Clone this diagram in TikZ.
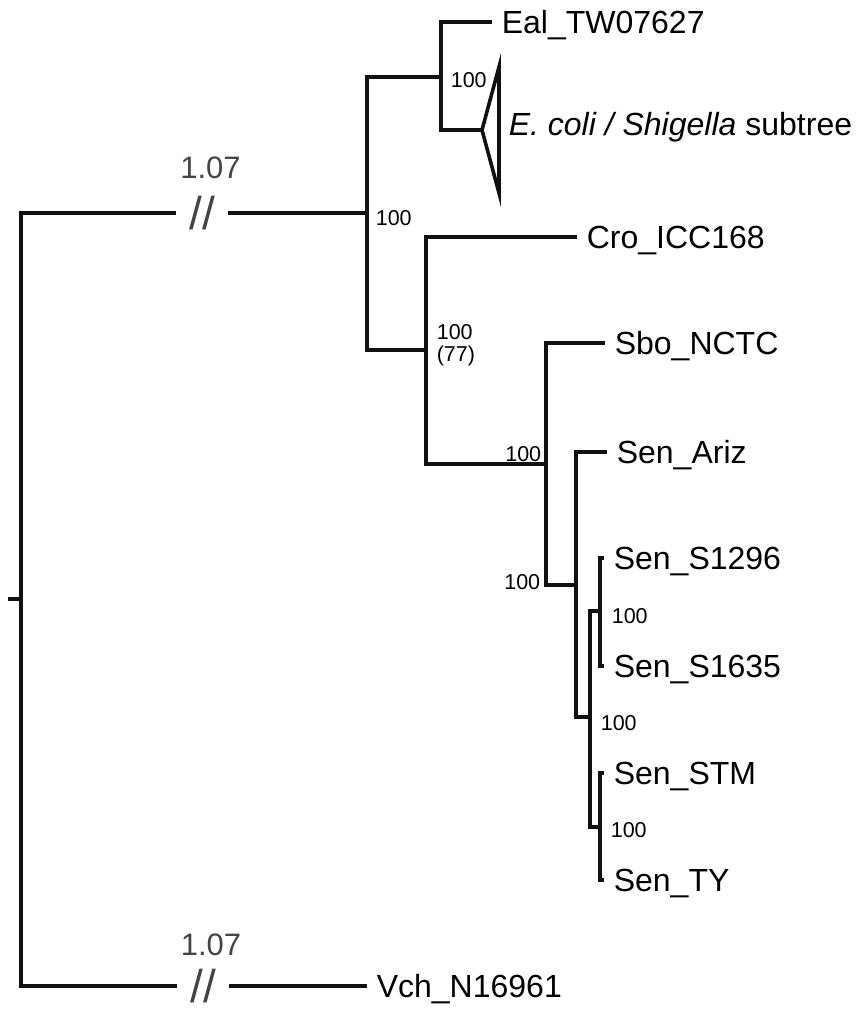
\documentclass[tikz,border=0pt]{standalone}
\usepackage{fontspec}
\setmainfont{Liberation Sans}
\usepackage{xcolor}
\definecolor{branchBlack}{HTML}{111111}
\definecolor{breakGrey}{HTML}{444444}
\usetikzlibrary{positioning}

\begin{document}
\begin{tikzpicture}[
    x=1pt, y=-1pt,
    line width=3.6pt,
    branch/.style={draw=branchBlack, line width=3.6pt},
    taxonNode/.style={anchor=west, inner xsep=8pt, inner ysep=0pt, text height=23pt, text depth=0pt, font=\fontsize{32}{38}\selectfont},
    bootLabel/.style={inner sep=0pt, font=\fontsize{21.5}{22}\selectfont, align=left},
    breakMark/.style={inner xsep=11.5pt, inner ysep=0pt, text height=33pt, text depth=0pt, text=breakGrey, font=\fontsize{46}{50}\selectfont},
    distLabel/.style={inner sep=0pt, text height=22pt, text depth=0pt, text=breakGrey, font=\fontsize{31}{36}\selectfont}
]
\useasboundingbox (0,0) rectangle (858,1009);

% Internal nodes of the tree
\coordinate (rootstub) at (8,599);
\coordinate (root) at (21,599);
\coordinate (nA) at (367,213);
\coordinate (nEC) at (441,77);
\coordinate (nB) at (426,350);
\coordinate (nC) at (546,464);
\coordinate (nD) at (576,585);
\coordinate (nE) at (590,717);
\coordinate (nF) at (600,611);
\coordinate (nG) at (600,827);

% Collapsed E. coli / Shigella clade
\coordinate (apex) at (482,130);
\coordinate (triTop) at (499,67);
\coordinate (triBot) at (499,193);

% Long branches with breaks
\node[breakMark] (brkTop) at (202,213) {//};
\node[breakMark] (brkBot) at (203,986) {//};
\node[distLabel] (distTop) at (210.5,167) {1.07};
\node[distLabel] (distBot) at (211,944) {1.07};

% Taxa
\node[taxonNode] (eal) at (492,22) {Eal\_TW07627};
\node[taxonNode] (ecoli) at (499,124) {\textit{E. coli / Shigella} subtree};
\node[taxonNode] (cro) at (577,237) {Cro\_ICC168};
\node[taxonNode] (sbo) at (605,343) {Sbo\_NCTC};
\node[taxonNode] (ariz) at (607,452) {Sen\_Ariz};
\node[taxonNode] (s1296) at (604,558) {Sen\_S1296};
\node[taxonNode] (s1635) at (604,666) {Sen\_S1635};
\node[taxonNode] (stm) at (604,773) {Sen\_STM};
\node[taxonNode] (ty) at (604,880) {Sen\_TY};
\node[taxonNode] (vch) at (367,986) {Vch\_N16961};

% Branches
\draw[branch] (rootstub) -- (root);
\draw[branch] (brkTop.west) -| (root) |- (brkBot.west);
\draw[branch] (brkTop.east) -- (nA);
\draw[branch] (brkBot.east) -- (vch.west);
\draw[branch] (nEC) -| (nA) |- (nB);
\draw[branch] (eal.west) -| (nEC) |- (apex);
\draw[branch] (apex) -- (triTop) -- (triBot) -- cycle;
\draw[branch] (cro.west) -| (nB) |- (nC);
\draw[branch] (sbo.west) -| (nC) |- (nD);
\draw[branch] (ariz.west) -| (nD) |- (nE);
\draw[branch] (nF) -| (nE) |- (nG);
\draw[branch] (s1296.west) -| (nF) |- (s1635.west);
\draw[branch] (stm.west) -| (nG) |- (ty.west);

% Bootstrap support
\node[bootLabel, anchor=base west] (bootA) at (374,225) {100};
\node[bootLabel, anchor=base west] (bootEC) at (449,87) {100};
\node[bootLabel, anchor=north west] (bootB) at (435,323) {100\\(77)};
\node[bootLabel, anchor=base east] (bootC) at (543,461) {100};
\node[bootLabel, anchor=base east] (bootD) at (542,589) {100};
\node[bootLabel, anchor=base west] (bootF) at (610,623) {100};
\node[bootLabel, anchor=base west] (bootE) at (599,730) {100};
\node[bootLabel, anchor=base west] (bootG) at (609,837) {100};

\end{tikzpicture}
\end{document}
